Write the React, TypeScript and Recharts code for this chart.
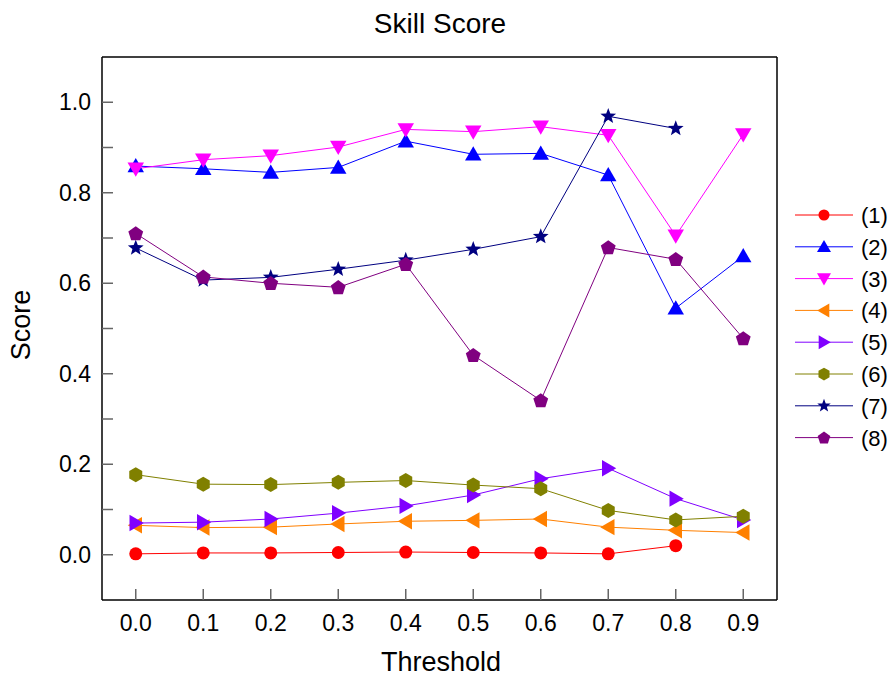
import React from 'react'
import { LineChart, Line, XAxis, YAxis, Legend } from 'recharts'

const thresholds = [0, 0.1, 0.2, 0.3, 0.4, 0.5, 0.6, 0.7, 0.8, 0.9]
const s1 = [0.002, 0.004, 0.004, 0.005, 0.006, 0.005, 0.004, 0.002, 0.02, null]
const s2 = [0.859, 0.853, 0.845, 0.856, 0.914, 0.885, 0.887, 0.839, 0.545, 0.66]
const s3 = [0.853, 0.873, 0.882, 0.901, 0.94, 0.935, 0.946, 0.927, 0.705, 0.929]
const s4 = [0.065, 0.06, 0.061, 0.068, 0.074, 0.076, 0.079, 0.061, 0.054, 0.049]
const s5 = [0.07, 0.072, 0.079, 0.092, 0.108, 0.132, 0.168, 0.191, 0.124, 0.077]
const s6 = [0.177, 0.156, 0.155, 0.16, 0.164, 0.154, 0.146, 0.098, 0.077, 0.085]
const s7 = [0.678, 0.607, 0.613, 0.631, 0.651, 0.675, 0.703, 0.969, 0.942, null]
const s8 = [0.71, 0.614, 0.6, 0.591, 0.642, 0.441, 0.341, 0.679, 0.653, 0.478]

const seriesNames = ['(1)', '(2)', '(3)', '(4)', '(5)', '(6)', '(7)', '(8)']
const seriesValues = [s1, s2, s3, s4, s5, s6, s7, s8]
const seriesColors = ['#ff0000', '#0000ff', '#ff00ff', '#ff8000', '#8000ff', '#808000', '#000080', '#800080']
const seriesShapes = ['circle', 'up', 'down', 'left', 'right', 'hexagon', 'star', 'pentagon']

const xTicks = thresholds
const yTicks = [0, 0.1, 0.2, 0.3, 0.4, 0.5, 0.6, 0.7, 0.8, 0.9, 1.0]

const FONT = 'Arial, "Liberation Sans", sans-serif'

const data = thresholds.map((t, i) => {
  const row: Record<string, number | null> = { x: t }
  seriesValues.forEach((vals, k) => {
    row[`s${k + 1}`] = vals[i]
  })
  return row
})

function polygon(cx: number, cy: number, n: number, r: number, rot: number) {
  const pts: string[] = []
  for (let i = 0; i < n; i++) {
    const a = rot + (i * 2 * Math.PI) / n
    pts.push(`${cx + r * Math.cos(a)},${cy + r * Math.sin(a)}`)
  }
  return pts.join(' ')
}

function star(cx: number, cy: number, ro: number, ri: number) {
  const pts: string[] = []
  for (let i = 0; i < 10; i++) {
    const r = i % 2 === 0 ? ro : ri
    const a = -Math.PI / 2 + (i * Math.PI) / 5
    pts.push(`${cx + r * Math.cos(a)},${cy + r * Math.sin(a)}`)
  }
  return pts.join(' ')
}

function Marker({ shape, cx, cy, color, s = 1 }: { shape: string; cx: number; cy: number; color: string; s?: number }) {
  switch (shape) {
    case 'circle':
      return <circle cx={cx} cy={cy} r={6.5 * s} fill={color} />
    case 'up':
      return <polygon points={polygon(cx, cy + 1.5 * s, 3, 9.5 * s, -Math.PI / 2)} fill={color} />
    case 'down':
      return <polygon points={polygon(cx, cy - 1.5 * s, 3, 9.5 * s, Math.PI / 2)} fill={color} />
    case 'left':
      return <polygon points={polygon(cx + 1.5 * s, cy, 3, 9.5 * s, Math.PI)} fill={color} />
    case 'right':
      return <polygon points={polygon(cx - 1.5 * s, cy, 3, 9.5 * s, 0)} fill={color} />
    case 'hexagon':
      return <polygon points={polygon(cx, cy, 6, 7.5 * s, -Math.PI / 2)} fill={color} />
    case 'star':
      return <polygon points={star(cx, cy, 8.3 * s, 3.5 * s)} fill={color} />
    default:
      return <polygon points={polygon(cx, cy + 0.5 * s, 5, 7.8 * s, -Math.PI / 2)} fill={color} />
  }
}

function LegendBox() {
  return (
    <svg width={100} height={260} style={{ display: 'block' }}>
      {seriesNames.map((name, i) => {
        const y = 17 + i * 31.8
        return (
          <g key={name}>
            <line x1={5} x2={63} y1={y} y2={y} stroke={seriesColors[i]} strokeWidth={1} />
            <Marker shape={seriesShapes[i]} cx={34} cy={y} color={seriesColors[i]} s={0.85} />
            <text x={71} y={y + 8} fontSize={22} fontFamily={FONT} fill="#000">
              {name}
            </text>
          </g>
        )
      })}
    </svg>
  )
}

const axisLine = { stroke: '#000', strokeWidth: 1.5 }
const tickLine = { stroke: '#666', strokeWidth: 1.5 }

export default function App() {
  return (
    <div style={{ position: 'absolute', left: 0, top: 0, width: 891, height: 679, fontFamily: FONT, background: '#fff' }}>
      <LineChart width={891} height={679} data={data} margin={{ top: 56, right: 113, bottom: 39, left: 42 }}>
        <XAxis
          xAxisId="bottom"
          dataKey="x"
          type="number"
          domain={[-0.05, 0.95]}
          ticks={xTicks}
          tickFormatter={(v: number) => v.toFixed(1)}
          height={40}
          tickSize={-11}
          tickMargin={26}
          axisLine={axisLine}
          tickLine={tickLine}
          tick={{ fill: '#000', fontSize: 23, fontFamily: FONT }}
        />
        <XAxis
          xAxisId="top"
          orientation="top"
          dataKey="x"
          type="number"
          domain={[-0.05, 0.95]}
          ticks={xTicks}
          height={1}
          tickSize={-11}
          tick={false}
          axisLine={axisLine}
          tickLine={tickLine}
        />
        <YAxis
          yAxisId="left"
          type="number"
          domain={[-0.1, 1.1]}
          ticks={yTicks}
          width={60}
          tickSize={-11}
          tickMargin={22}
          tickFormatter={(v: number) => (Math.round(v * 10) % 2 === 0 ? v.toFixed(1) : '')}
          axisLine={axisLine}
          tickLine={tickLine}
          tick={{ fill: '#000', fontSize: 23, fontFamily: FONT }}
        />
        <YAxis
          yAxisId="right"
          orientation="right"
          type="number"
          domain={[-0.1, 1.1]}
          ticks={yTicks}
          width={1}
          tickSize={-11}
          tick={false}
          axisLine={axisLine}
          tickLine={tickLine}
        />
        <Legend
          layout="vertical"
          align="center"
          verticalAlign="middle"
          content={() => <LegendBox />}
          wrapperStyle={{ position: 'absolute', left: 790, top: 198, width: 100 }}
        />
        {seriesNames.map((name, k) => (
          <Line
            key={name}
            xAxisId="bottom"
            yAxisId="left"
            type="linear"
            dataKey={`s${k + 1}`}
            name={name}
            stroke={seriesColors[k]}
            strokeWidth={1}
            isAnimationActive={false}
            connectNulls={false}
            dot={(p: any) =>
              p.cx == null || p.cy == null || p.value == null ? (
                <g key={`d${k}-${p.index}`} />
              ) : (
                <Marker key={`d${k}-${p.index}`} shape={seriesShapes[k]} cx={p.cx} cy={p.cy} color={seriesColors[k]} />
              )
            }
            activeDot={false}
          />
        ))}
      </LineChart>
      <svg width={891} height={679} style={{ position: 'absolute', left: 0, top: 0, pointerEvents: 'none' }}>
        <text x={440} y={33} textAnchor="middle" fontSize={28} fontFamily={FONT} fill="#000">
          Skill Score
        </text>
        <text x={441} y={671} textAnchor="middle" fontSize={27} fontFamily={FONT} fill="#000">
          Threshold
        </text>
        <text
          x={30}
          y={325}
          textAnchor="middle"
          fontSize={27}
          fontFamily={FONT}
          fill="#000"
          transform="rotate(-90 30 325)"
        >
          Score
        </text>
      </svg>
    </div>
  )
}
